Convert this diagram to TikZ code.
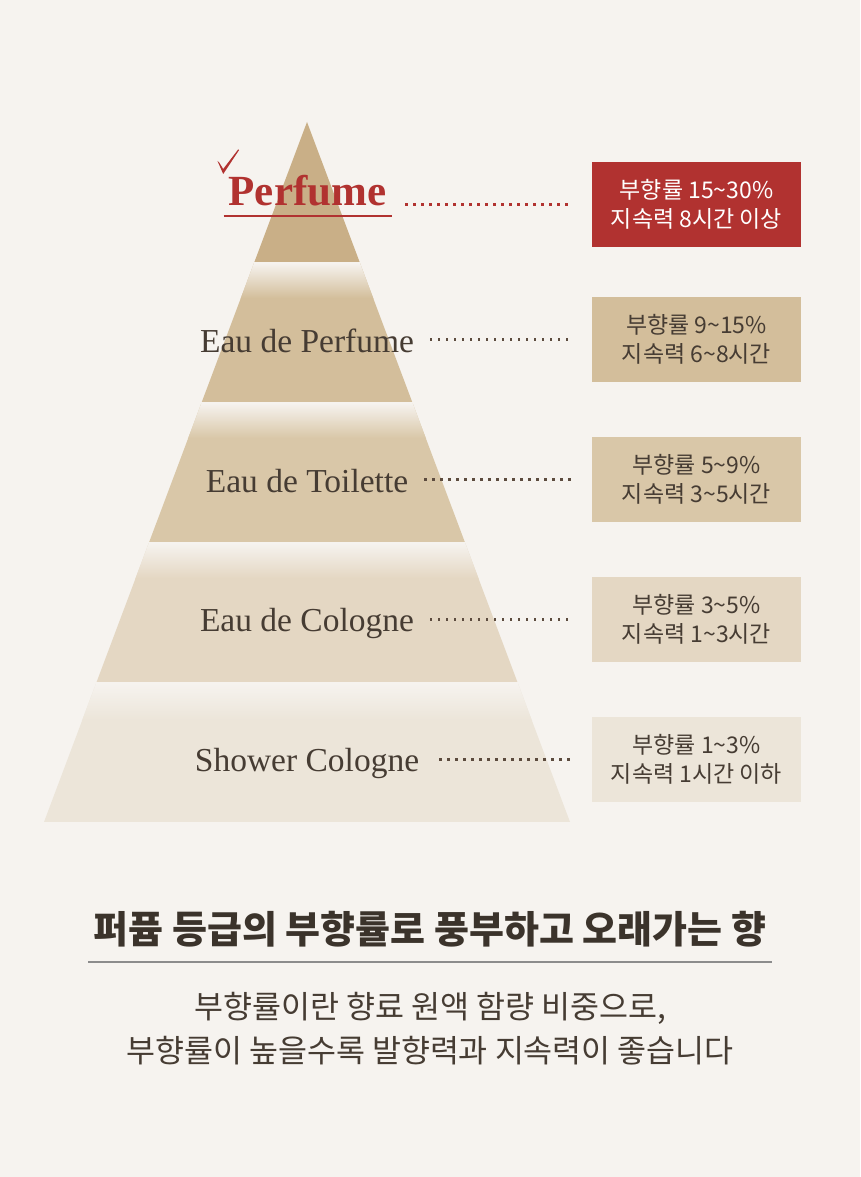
\documentclass[tikz,border=0pt]{standalone}
\usepackage{fontspec}
\setmainfont{Liberation Serif}
\newfontfamily\kr{Noto Sans CJK KR}
\definecolor{bg}{HTML}{F6F3EF}
\definecolor{cA}{HTML}{C9AF87}
\definecolor{cB}{HTML}{D3BE9B}
\definecolor{cC}{HTML}{D9C7A8}
\definecolor{cD}{HTML}{E4D7C3}
\definecolor{cE}{HTML}{ECE5D9}
\definecolor{red1}{HTML}{B13230}
\definecolor{txt}{HTML}{463C33}
\definecolor{dotc}{HTML}{5C4B3E}
\tikzset{
  lab/.style={inner sep=0pt, anchor=base, text=txt, font=\fontsize{33.5}{38}\selectfont},
  infobox/.style={minimum width=209pt, minimum height=85pt, inner sep=0pt, align=center,
     text=txt, font=\kr\fontsize{23}{29}\selectfont},
  dotline/.style={line width=2.2pt, dash pattern=on 2.2pt off 5.8pt, dotc},
  subline/.style={inner sep=0pt, anchor=base, text=txt, font=\kr\fontsize{31.5}{40}\selectfont},
}
\begin{document}
\begin{tikzpicture}[x=1pt,y=-1pt]
\fill[bg] (0,0) rectangle (860,1177);
\useasboundingbox (0,0) rectangle (860,1177);
% pyramid
\begin{scope}
\clip (307,122) -- (570,822) -- (44,822) -- cycle;
\fill[cA] (0,100) rectangle (860,261.5);
\fill[cB] (0,263) rectangle (860,401.5);
\shade[top color=bg, bottom color=cB] (0,263) rectangle (860,298);
\fill[cC] (0,403) rectangle (860,541.5);
\shade[top color=bg, bottom color=cC] (0,403) rectangle (860,438);
\fill[cD] (0,543) rectangle (860,681.5);
\shade[top color=bg, bottom color=cD] (0,543) rectangle (860,578);
\fill[cE] (0,683) rectangle (860,822);
\shade[top color=bg, bottom color=cE] (0,683) rectangle (860,720);
\end{scope}
% labels
\node[lab, text=red1, font=\bfseries\fontsize{43}{48}\selectfont] (l1) at (307.5,205) {Perfume};
\node[lab] (l2) at (307,352) {Eau de Perfume};
\node[lab] (l3) at (307,492) {Eau de Toilette};
\node[lab] (l4) at (307,631) {Eau de Cologne};
\node[lab] (l5) at (307,771) {Shower Cologne};
% check mark and underline
\fill[red1] (217.5,161) -- (219.2,162.5) -- (223.2,169) -- (238.2,149.4) -- (239,150.2) -- (223.2,174) -- cycle;
\draw[red1, line width=1.8pt] ([xshift=-5pt]l1.south west |- 0,216) -- ([xshift=6pt]l1.south east |- 0,216);
% boxes
\node[infobox, fill=red1, text=white] (b1) at (696.5,204.5) {부향률 15\textasciitilde30\%\\지속력 8시간 이상};
\node[infobox, fill=cB] (b2) at (696.5,339.5) {부향률 9\textasciitilde15\%\\지속력 6\textasciitilde8시간};
\node[infobox, fill=cC] (b3) at (696.5,479.5) {부향률 5\textasciitilde9\%\\지속력 3\textasciitilde5시간};
\node[infobox, fill=cD] (b4) at (696.5,619.5) {부향률 3\textasciitilde5\%\\지속력 1\textasciitilde3시간};
\node[infobox, fill=cE] (b5) at (696.5,759.5) {부향률 1\textasciitilde3\%\\지속력 1시간 이하};
% dotted connectors
\draw[dotline, red1, shorten <=19pt, shorten >=19pt] (l1.east |- b1.west) -- (b1.west);
\draw[dotline, shorten <=16pt, shorten >=19pt] (l2.east |- b2.west) -- (b2.west);
\draw[dotline, shorten <=16pt, shorten >=19pt] (l3.east |- b3.west) -- (b3.west);
\draw[dotline, shorten <=16pt, shorten >=19pt] (l4.east |- b4.west) -- (b4.west);
\draw[dotline, shorten <=20pt, shorten >=19pt] (l5.east |- b5.west) -- (b5.west);
% title
\node[inner sep=0pt, anchor=base, text=txt!85!black, font=\kr\bfseries\fontsize{38}{42}\selectfont] (title) at (430,943) {퍼퓸 등급의 부향률로 풍부하고 오래가는 향};
\coordinate (r1) at (88,962);
\coordinate (r2) at (772,962);
\draw[line width=1.2pt, color=black!45] (r1) -- (r2);
\node[subline] (sub1) at (430,1018) {부향률이란 향료 원액 함량 비중으로,};
\node[subline] (sub2) at (430,1062) {부향률이 높을수록 발향력과 지속력이 좋습니다};
\end{tikzpicture}
\end{document}
